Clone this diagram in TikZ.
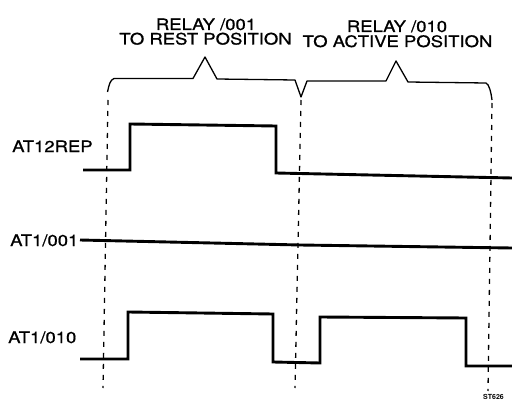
\documentclass[tikz,border=0pt]{standalone}
\usepackage{fontspec}
\setmainfont{TeX Gyre Heros}
\newfontfamily\labfont[FakeStretch=1.17,FakeBold=0.8]{TeX Gyre Heros}
\begin{document}
\begin{tikzpicture}[x=1pt,y=-1pt,
  sig/.style={line width=2.9pt,line join=miter,line cap=butt},
  brace/.style={line width=1.3pt,line join=round},
  guide/.style={line width=1.3pt,dash pattern=on 5pt off 6pt},
  lab/.style={inner sep=0pt,font=\labfont\fontsize{15.8}{18}\selectfont},
  hdr/.style={inner sep=0pt,anchor=base,font=\labfont\fontsize{15.8}{18}\selectfont}]
\useasboundingbox[fill=white] (0,0) rectangle (512,404);
% headings
\node[hdr] (h1) at (206,30) {RELAY /001};
\node[hdr] (h2) at (205.5,44.5) {TO REST POSITION};
\node[hdr] (h3) at (397,32) {RELAY /010};
\node[hdr] (h4) at (397.5,47) {TO ACTIVE POSITION};
% braces
\draw[brace] (107.5,92) .. controls (109,85) and (110,80) .. (114,78.5)
  -- (193,78.5) -- (205,57) -- (217,79) -- (295,80) -- (301,97) -- (307,81)
  -- (386,81) -- (396,61) -- (408,82) -- (486,83) .. controls (489,84) and (491,92) .. (492,100);
% dashed guides
\coordinate (g1t) at (108,100); \coordinate (g1b) at (103,388);
\coordinate (g2t) at (301,100); \coordinate (g2b) at (295,388);
\coordinate (g3t) at (492,103); \coordinate (g3b) at (488,391);
\draw[guide] (g1t) -- (g1b);
\draw[guide] (g2t) -- (g2b);
\draw[guide] (g3t) -- (g3b);
% signal labels
\node[lab,anchor=base west] (s1) at (12,152) {AT12REP};
\node[lab,anchor=base west] (s2) at (10,246) {AT1/001};
\node[lab,anchor=base west] (s3) at (8,343) {AT1/010};
% signals
\draw[sig] (83,170) -- (130,170) -- (130,124) -- (276,126) -- (276,173) -- (512,178);
\draw[sig] (80,240) -- (300,245) -- (512,248);
\draw[sig] (80,359) -- (128,359) -- (128,312) -- (273,314) -- (273,362) -- (320,363)
  -- (320,317) -- (466,318) -- (466,366) -- (512,366);
% figure code
\node[inner sep=0pt,anchor=base west,font=\bfseries\fontsize{7}{8}\selectfont] (code) at (483,399) {ST626};
\end{tikzpicture}
\end{document}
